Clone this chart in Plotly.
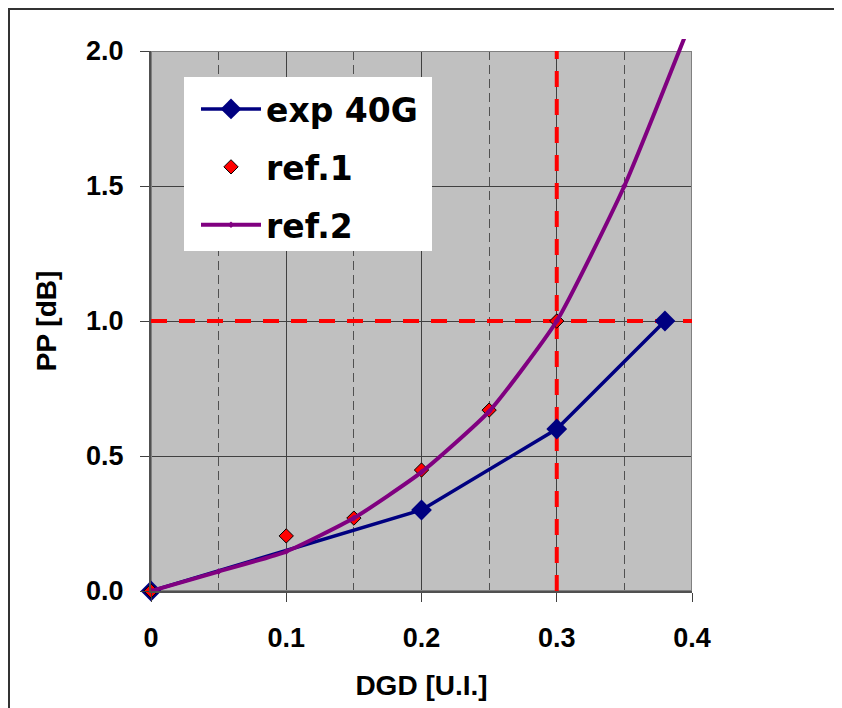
import plotly.graph_objects as go

# ---- data ----
exp_x = [0.0, 0.2, 0.3, 0.38]
exp_y = [0.0, 0.30, 0.60, 1.0]

ref1_x = [0.0, 0.1, 0.15, 0.2, 0.25, 0.3]
ref1_y = [0.0, 0.204, 0.27, 0.448, 0.67, 1.0]

ref2_x = [0.0, 0.05, 0.1, 0.15, 0.2, 0.25, 0.3, 0.35, 0.4]
ref2_y = [0.0, 0.072, 0.146, 0.27, 0.44, 0.665, 1.0, 1.5, 2.12]

x_ticks = [0.0, 0.1, 0.2, 0.3, 0.4]
x_ticktext = ["0", "0.1", "0.2", "0.3", "0.4"]
y_ticks = [0.0, 0.5, 1.0, 1.5, 2.0]
y_ticktext = ["0.0", "0.5", "1.0", "1.5", "2.0"]

limit_x = 0.3   # red dashed vertical reference
limit_y = 1.0   # red dashed horizontal reference

X_RANGE = [0.0, 0.4]
Y_RANGE = [0.0, 2.0]

# ---- layout geometry (figure pixels; page adds an 8px body margin) ----
OFF = 8
W, H = 842 - OFF, 708 - OFF
ML, MR, MT, MB = 151 - OFF, 150, 39 - OFF, 117
plot_w = W - ML - MR
plot_h = H - MT - MB            # includes 12px band above the main plot area
main_top = 540 / plot_h          # main y-domain top
y2_max = Y_RANGE[1] / main_top   # extended range for the overshooting curve


def px(sx):   # screen x -> paper x
    return (sx - 151) / plot_w


def py(sy):   # screen y -> paper y
    return (591 - sy) / plot_h


FONT = "Liberation Sans, Arial, sans-serif"

fig = go.Figure()

fig.add_trace(go.Scatter(
    x=exp_x, y=exp_y, name="exp 40G", mode="lines+markers",
    line=dict(color="#000080", width=3.5),
    marker=dict(symbol="diamond", size=16, color="#000080"),
    cliponaxis=False, legendgroup="a",
))
fig.add_trace(go.Scatter(
    x=ref1_x, y=ref1_y, name="ref.1", mode="markers",
    marker=dict(symbol="diamond", size=11, color="#FF0000",
                line=dict(color="black", width=1)),
    cliponaxis=False, legendgroup="b",
))
fig.add_trace(go.Scatter(
    x=ref2_x, y=ref2_y, name="ref.2", mode="lines+markers",
    line=dict(color="#800080", width=4, shape="spline", smoothing=0.5),
    marker=dict(symbol="diamond", size=5, color="#800080"),
    xaxis="x2", yaxis="y2", legendgroup="c",
))

shapes = [
    # white chart area with dark border (extends past right/bottom of image)
    dict(type="rect", xref="paper", yref="paper",
         x0=(1 - ML) / plot_w, x1=3.0,
         y0=-2.0, y1=(H - MB - 1) / plot_h,
         fillcolor="white", line=dict(color="#333333", width=2), layer="below"),
    # grey plot area
    dict(type="rect", xref="x", yref="y",
         x0=X_RANGE[0], x1=X_RANGE[1], y0=Y_RANGE[0], y1=Y_RANGE[1],
         fillcolor="#C0C0C0", line=dict(width=0), layer="below"),
    # plot area frame
    dict(type="rect", xref="x", yref="y",
         x0=X_RANGE[0], x1=X_RANGE[1], y0=Y_RANGE[0], y1=Y_RANGE[1],
         line=dict(color="#808080", width=2), layer="between"),
    # red dashed reference lines
    dict(type="line", xref="x", yref="y",
         x0=X_RANGE[0], x1=X_RANGE[1], y0=limit_y, y1=limit_y,
         line=dict(color="#FF0000", width=4, dash="16px,12px"), layer="between"),
    dict(type="line", xref="x", yref="y",
         x0=limit_x, x1=limit_x, y0=Y_RANGE[0], y1=Y_RANGE[1],
         line=dict(color="#FF0000", width=4, dash="16px,12px"), layer="between"),
    # white legend box
    dict(type="rect", xref="paper", yref="paper",
         x0=px(184), x1=px(432), y0=py(251), y1=py(77),
         fillcolor="white", line=dict(width=0), layer="above"),
]

tick_font = dict(family=FONT, size=27, color="black", weight="bold")
title_font = dict(family=FONT, size=28, color="black", weight="bold")

fig.update_layout(
    width=W, height=H,
    margin=dict(l=ML, r=MR, t=MT, b=MB, pad=0, autoexpand=False),
    paper_bgcolor="#FFF7E6",
    plot_bgcolor="rgba(0,0,0,0)",
    shapes=shapes,
    showlegend=True,
    legend=dict(
        x=px(196), y=py(81),
        xanchor="left", yanchor="top",
        bgcolor="rgba(0,0,0,0)", borderwidth=0,
        font=dict(family="DejaVu Sans, sans-serif", size=33, color="black", weight="bold"),
        traceorder="grouped", tracegroupgap=12,
        itemwidth=60,
    ),
    xaxis=dict(
        range=X_RANGE, domain=[0, 1], anchor="y",
        tickvals=x_ticks, ticktext=x_ticktext,
        ticks="outside", ticklen=9, tickwidth=1, tickcolor="#404040",
        tickfont=tick_font, ticklabelstandoff=13,
        showgrid=True, gridcolor="#404040", gridwidth=1,
        showline=True, linecolor="#505050", linewidth=2,
        zeroline=False,
        minor=dict(dtick=0.05, tick0=0, showgrid=True, griddash="9px,5px",
                   gridcolor="#505050", gridwidth=1, ticks=""),
        title=dict(text="DGD [U.I.]", font=title_font, standoff=23),
    ),
    yaxis=dict(
        range=Y_RANGE, domain=[0, main_top], anchor="x",
        tickvals=y_ticks, ticktext=y_ticktext,
        ticks="outside", ticklen=9, tickwidth=1, tickcolor="#404040",
        tickfont=tick_font, ticklabelstandoff=11,
        showgrid=True, gridcolor="#404040", gridwidth=1,
        showline=True, linecolor="#505050", linewidth=2,
        zeroline=False,
        title=dict(text="PP [dB]", font=title_font, standoff=21),
    ),
    xaxis2=dict(range=X_RANGE, domain=[0, 1], anchor="y2", visible=False),
    yaxis2=dict(range=[Y_RANGE[0], y2_max], domain=[0, 1], anchor="x2", visible=False),
)

fig.write_html("out.html")
